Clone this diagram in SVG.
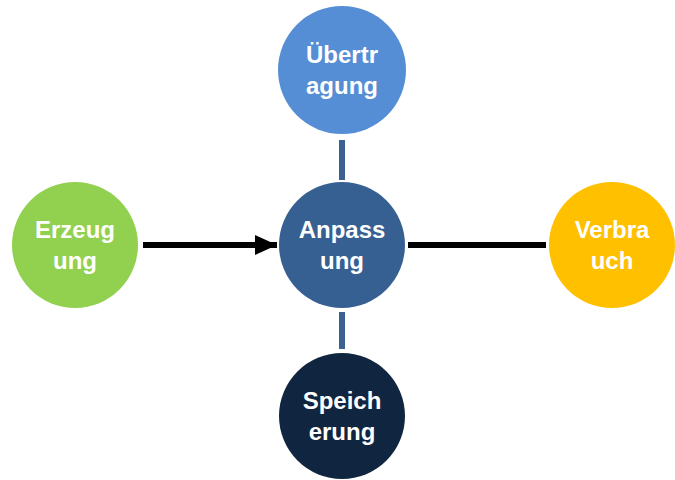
<svg xmlns="http://www.w3.org/2000/svg" width="675" height="480" viewBox="0 0 675 480">
<style>
.lbl{font-family:"Liberation Sans",Arial,sans-serif;font-weight:bold;font-size:24px;fill:#fff;text-anchor:middle}
</style>
<defs>
<marker id="ah" markerUnits="userSpaceOnUse" markerWidth="22" markerHeight="20" refX="22" refY="10" orient="auto">
<path d="M0,0 L22,10 L0,20 Z" fill="#000"/>
</marker>
</defs>
<rect width="675" height="480" fill="#fff"/>
<g id="connectors">
<line x1="342" y1="140" x2="342" y2="180" stroke="#3A6291" stroke-width="6"/>
<line x1="342" y1="312" x2="342" y2="349" stroke="#3A6291" stroke-width="6"/>
<line x1="143" y1="245" x2="277" y2="245" stroke="#000" stroke-width="6" marker-end="url(#ah)"/>
<line x1="408" y1="245" x2="546" y2="245" stroke="#000" stroke-width="6"/>
</g>
<g id="uebertragung">
<circle cx="342" cy="70" r="64" fill="#558ED5"/>
<text class="lbl" x="342" y="63">Übertr</text>
<text class="lbl" x="342" y="94">agung</text>
</g>
<g id="erzeugung">
<circle cx="75" cy="245" r="63" fill="#92D050"/>
<text class="lbl" x="75" y="238">Erzeug</text>
<text class="lbl" x="75" y="269">ung</text>
</g>
<g id="anpassung">
<circle cx="342" cy="245" r="63" fill="#376092"/>
<text class="lbl" x="342" y="238">Anpass</text>
<text class="lbl" x="342" y="269">ung</text>
</g>
<g id="verbrauch">
<circle cx="612" cy="245" r="63" fill="#FFC000"/>
<text class="lbl" x="612" y="238">Verbra</text>
<text class="lbl" x="612" y="269">uch</text>
</g>
<g id="speicherung">
<circle cx="342" cy="416" r="63" fill="#10253F"/>
<text class="lbl" x="342" y="409">Speich</text>
<text class="lbl" x="342" y="440">erung</text>
</g>
</svg>
